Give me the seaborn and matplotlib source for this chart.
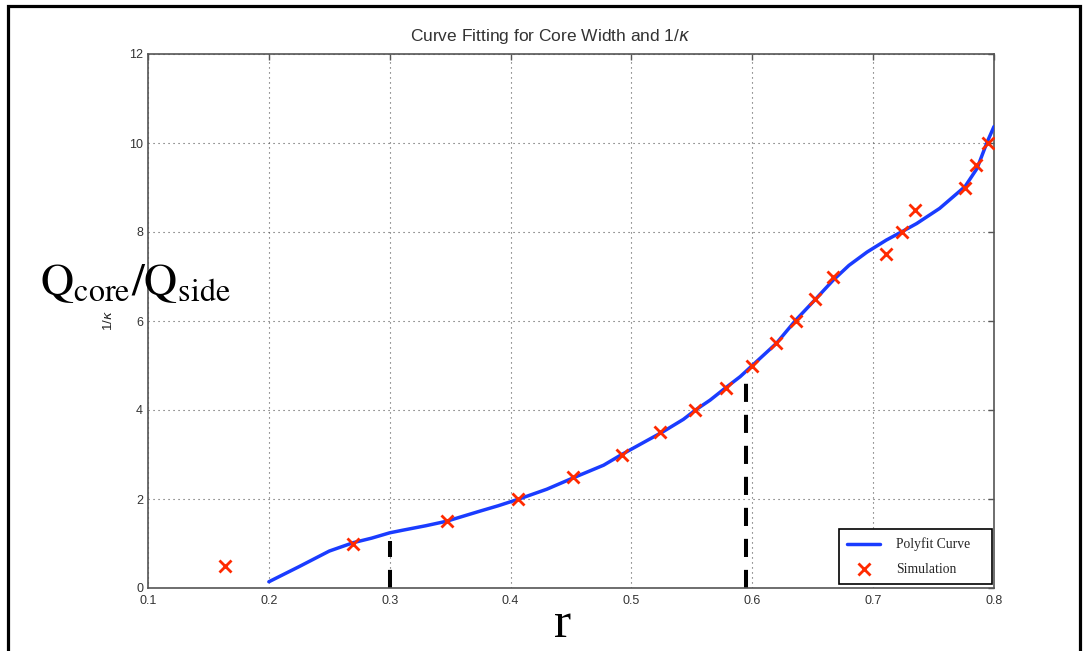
import matplotlib
matplotlib.use("Agg")
import matplotlib.pyplot as plt
from matplotlib.patches import Rectangle
import numpy as np
import pandas as pd
import seaborn as sns

# Simulation results: core ratio r versus 1/kappa
sim_r = [0.164, 0.270, 0.347, 0.406, 0.452, 0.492, 0.524, 0.553, 0.578, 0.600,
         0.620, 0.636, 0.652, 0.667, 0.711, 0.724, 0.735, 0.776, 0.785, 0.795]
sim_inv_kappa = [0.5, 1.0, 1.5, 2.0, 2.5, 3.0, 3.5, 4.0, 4.5, 5.0,
                 5.5, 6.0, 6.5, 7.0, 7.5, 8.0, 8.5, 9.0, 9.5, 10.0]

# Polynomial fit curve, sampled along r
fit_r = [0.200, 0.225, 0.250, 0.270, 0.285, 0.300, 0.311, 0.330, 0.347, 0.375,
         0.390, 0.407, 0.430, 0.454, 0.477, 0.492, 0.510, 0.526, 0.543, 0.553,
         0.565, 0.578, 0.590, 0.600, 0.620, 0.636, 0.652, 0.667, 0.680, 0.695,
         0.711, 0.724, 0.736, 0.755, 0.776, 0.786, 0.794, 0.800]
fit_inv_kappa = [0.14, 0.48, 0.83, 1.02, 1.12, 1.24, 1.30, 1.40, 1.50, 1.73,
                 1.85, 2.00, 2.22, 2.50, 2.76, 3.00, 3.27, 3.51, 3.79, 4.00,
                 4.22, 4.50, 4.75, 5.00, 5.50, 6.02, 6.48, 6.92, 7.25, 7.55,
                 7.82, 8.01, 8.19, 8.53, 9.02, 9.43, 10.00, 10.37]

# Vertical markers delimiting the core width range
cut_r = [0.300, 0.595]
cut_top = [1.06, 4.72]

x_ticks = [0.1, 0.2, 0.3, 0.4, 0.5, 0.6, 0.7, 0.8]
y_ticks = [0, 2, 4, 6, 8, 10, 12]

sim_df = pd.DataFrame({"r": sim_r, "inv_kappa": sim_inv_kappa})
fit_df = pd.DataFrame({"r": fit_r, "inv_kappa": fit_inv_kappa})

sns.set_style("white")
tick_font = ["Liberation Sans Narrow", "Liberation Sans", "DejaVu Sans"]
plt.rcParams["font.family"] = ["Liberation Sans", "DejaVu Sans"]

W, H = 1086, 651
fig = plt.figure(figsize=(W / 100, H / 100), dpi=100)
ax = fig.add_axes([148 / W, 1 - 588 / H, (994 - 148) / W, (588 - 54) / H])

ax.vlines(cut_r, 0, cut_top, colors="black", linewidth=2.9,
          linestyles=[(0, (4.5, 3.2))], zorder=2)

sns.lineplot(data=fit_df, x="r", y="inv_kappa", sort=False, estimator=None,
             color="#1a3cff", linewidth=2.5, label="Polyfit Curve", ax=ax, zorder=3)
sns.scatterplot(data=sim_df, x="r", y="inv_kappa", marker="x", s=75,
                color="#ff2a00", linewidth=2.0, label="Simulation", ax=ax, zorder=4)

ax.set_xlim(0.1, 0.8)
ax.set_ylim(0, 12)
ax.set_xticks(x_ticks)
ax.set_yticks(y_ticks)
ax.set_xticklabels([f"{v:.1f}" for v in x_ticks], family=tick_font)
ax.set_yticklabels([str(v) for v in y_ticks], family=tick_font)
ax.tick_params(direction="in", length=4, width=1, top=True, right=True,
               labelsize=9, labelcolor="#333333", color="#555555", pad=3.5)
ax.tick_params(axis="x", pad=4.8)

ax.grid(True, linestyle=(0, (1, 3.5)), color="#555555", linewidth=0.8)
for sp in ax.spines.values():
    sp.set_color("#555555")
    sp.set_linewidth(1.2)

ax.set_xlabel("")
ax.set_ylabel(r"1/$\kappa$", fontsize=9.5, color="#222222")
ax.yaxis.set_label_coords((115 - 148) / (994 - 148), 0.5)

ax.legend(loc="lower left",
          bbox_to_anchor=((839 - 148) / 846, (588 - 584) / 534, 153 / 846, 0.1),
          mode="expand", borderaxespad=0, frameon=True, fancybox=False,
          edgecolor="black", framealpha=1, handlelength=2.4, handletextpad=1.2,
          labelspacing=0.85, borderpad=0.6,
          prop={"family": ["Liberation Serif", "DejaVu Serif"], "size": 9.8})
ax.get_legend().get_frame().set_linewidth(1.2)

fig.text(550 / W, 1 - 37 / H, r"Curve Fitting for Core Width and 1/$\kappa$",
         ha="center", va="center", fontsize=12.5, color="#333333")

fig.text(40 / W, 1 - 295 / H, r"$\mathrm{Q_{core}/Q_{side}}$",
         ha="left", va="baseline", fontsize=33, color="black",
         math_fontfamily="stix")

fig.text(563 / W, 1 - 637 / H, "r", ha="center", va="baseline", fontsize=37,
         family=["Liberation Serif", "DejaVu Serif"], color="black")

fig.patches.append(Rectangle((8 / W, -0.1), (1080 - 8) / W, 1 - 6 / H + 0.1,
                             transform=fig.transFigure, fill=False,
                             edgecolor="black", linewidth=2.3, clip_on=False))

fig.savefig("out.png", dpi=100)
